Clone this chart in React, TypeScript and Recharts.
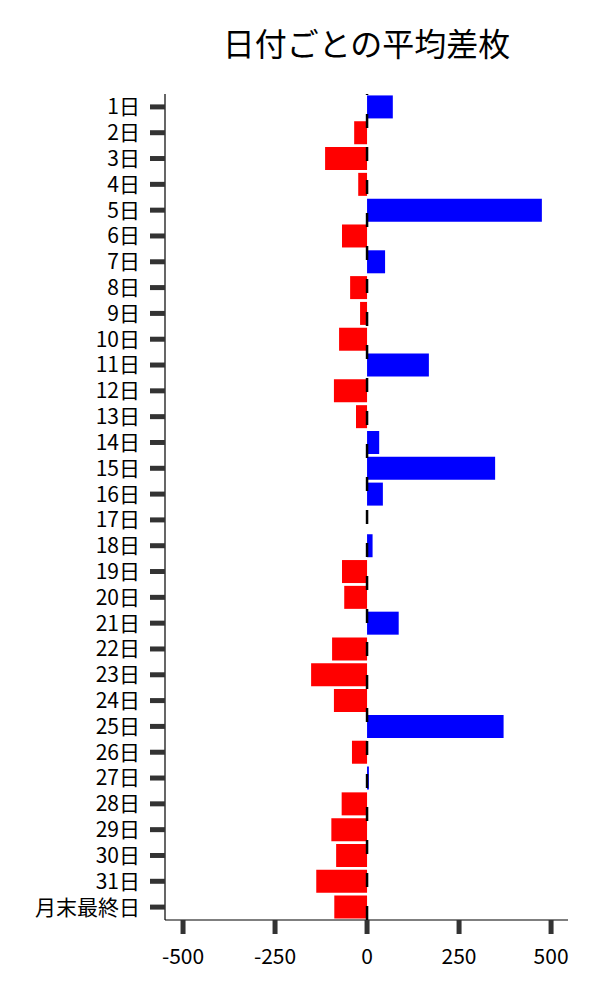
import React from "react";
import { BarChart, Bar, XAxis, YAxis, Cell, ReferenceLine } from "recharts";

const days: string[] = [
  "1日", "2日", "3日", "4日", "5日", "6日", "7日", "8日", "9日", "10日",
  "11日", "12日", "13日", "14日", "15日", "16日", "17日", "18日", "19日", "20日",
  "21日", "22日", "23日", "24日", "25日", "26日", "27日", "28日", "29日", "30日",
  "31日", "月末最終日",
];

const values: number[] = [
  70, -35, -114, -24, 475, -68, 49, -46, -19, -76,
  168, -90, -30, 33, 348, 43, 0, 15, -68, -62,
  86, -95, -152, -90, 371, -41, 5, -69, -97, -84,
  -138, -89,
];

const xTicks: number[] = [-500, -250, 0, 250, 500];

const title = "日付ごとの平均差枚";

const data = days.map((d, i) => ({ day: d, value: values[i] }));

const FONT = '"Noto Sans CJK JP", "Noto Sans", sans-serif';

export default function App() {
  return (
    <div style={{ position: "absolute", left: 0, top: 0, width: 600, height: 1000, background: "#fff", fontFamily: FONT }}>
      <div
        style={{
          position: "absolute",
          left: 366.5,
          top: 26,
          transform: "translateX(-50%)",
          fontSize: 32,
          lineHeight: "32px",
          whiteSpace: "nowrap",
          color: "#000",
          fontFamily: FONT,
        }}
      >
        {title}
      </div>
      <BarChart
        width={600}
        height={1000}
        data={data}
        layout="vertical"
        margin={{ top: 94, right: 32, bottom: 0, left: 0 }}
        barCategoryGap="5.5%"
      >
        <XAxis
          type="number"
          domain={[-549, 546]}
          ticks={xTicks}
          allowDataOverflow
          height={80}
          tickSize={14}
          tickMargin={15}
          axisLine={{ stroke: "#000", strokeWidth: 1.2 }}
          tickLine={{ stroke: "#333", strokeWidth: 5 }}
          tick={{ fill: "#000", fontSize: 21, fontFamily: FONT }}
        />
        <YAxis
          type="category"
          dataKey="day"
          width={165}
          interval={0}
          tickSize={15}
          tickMargin={10}
          axisLine={{ stroke: "#000", strokeWidth: 1.2 }}
          tickLine={{ stroke: "#333", strokeWidth: 5 }}
          tick={{ fill: "#000", fontSize: 21, fontFamily: FONT }}
        />
        <ReferenceLine x={0} stroke="#000" strokeWidth={2.5} strokeDasharray="14 19" />
        <Bar dataKey="value" isAnimationActive={false}>
          {data.map((d, i) => (
            <Cell key={i} fill={d.value >= 0 ? "#0000ff" : "#ff0000"} />
          ))}
        </Bar>
      </BarChart>
    </div>
  );
}
